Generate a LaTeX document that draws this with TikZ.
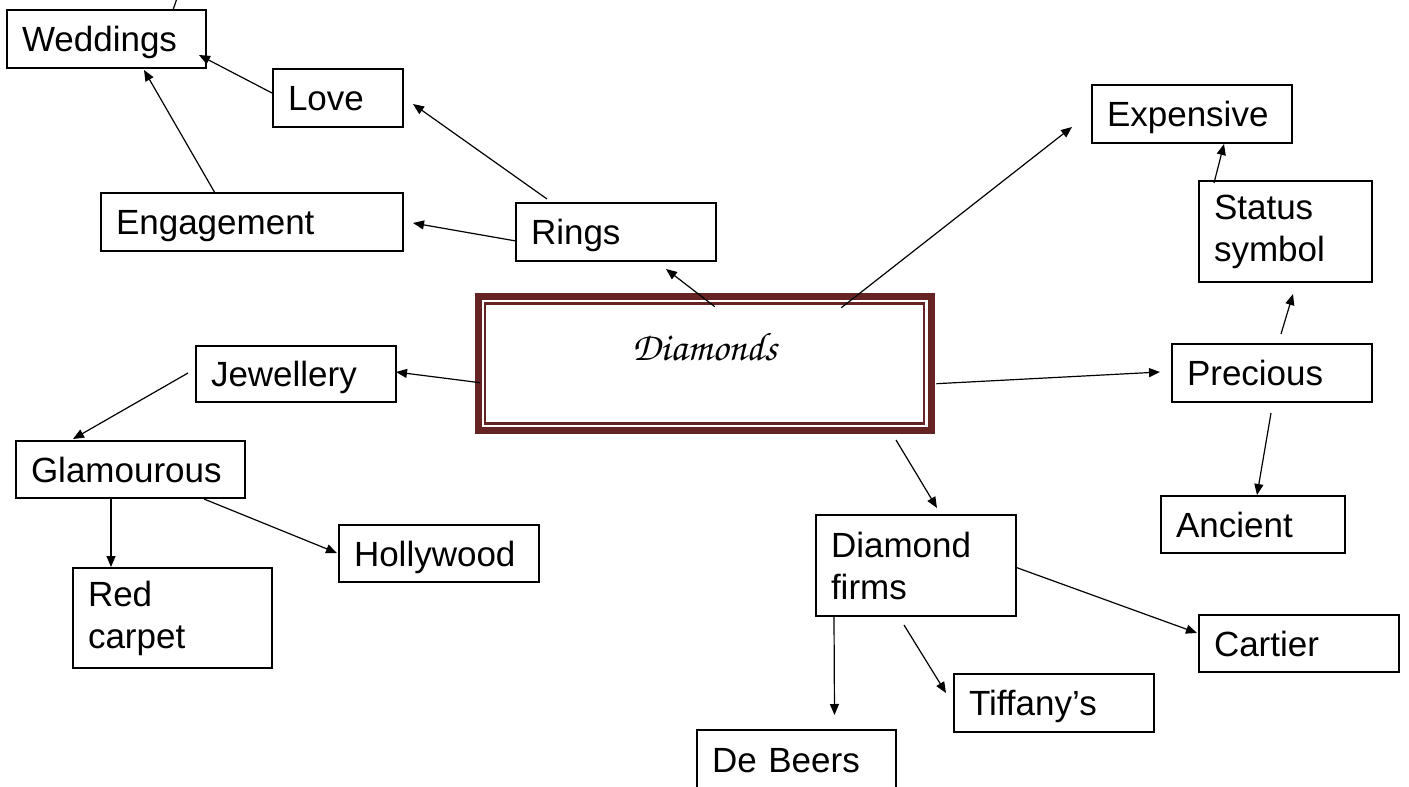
\documentclass[tikz,border=0pt]{standalone}
\usepackage{fontspec}
\setmainfont{Liberation Sans}
\newfontfamily\diafont{texgyrechorus-mediumitalic.otf}
\usetikzlibrary{arrows.meta}
\definecolor{diared}{RGB}{102,35,35}

\begin{document}
\begin{tikzpicture}[
  x=1pt, y=1pt,
  box/.style={draw, line width=1.3pt, anchor=north west, inner xsep=15pt, inner ysep=0pt, outer sep=0pt, align=left, text depth=0pt, font=\fontsize{35}{42}\selectfont},
  tallbox/.style={box, text depth=},
  arr/.style={-{Triangle[length=11pt,width=9pt]}, line width=1.2pt}
]
\useasboundingbox (0,0) rectangle (1409,-787);
\clip (0,0) rectangle (1409,-787);

% centre
\node[draw=diared, line width=6.7pt, anchor=north west, minimum width=453pt, minimum height=134pt, inner sep=0pt, outer sep=0pt, text height=25pt, text depth=32pt, font=\diafont\fontsize{40}{40}\selectfont] (dia) at (478.3,-296.7) {Diamonds};
\draw[diared, line width=2.6pt] ([shift={(6.5,-7)}]dia.north west) rectangle ([shift={(-7.5,7)}]dia.south east);

% left side
\node[box, text width=169pt, minimum height=58pt] (wed) at (7,-10) {Weddings};
\node[box, text width=100pt, minimum height=58pt] (love) at (273,-69) {Love};
\node[box, text width=272pt, minimum height=58pt] (eng) at (101,-193) {Engagement};
\node[box, text width=170pt, minimum height=58pt] (rings) at (516,-203) {Rings};
\node[box, text width=170pt, minimum height=56pt] (jew) at (196,-346) {Jewellery};
\node[box, text width=199pt, minimum height=57pt] (glam) at (16,-441) {Glamourous};
\node[box, text width=170pt, minimum height=57pt] (holly) at (339,-525) {Hollywood};
\node[tallbox, text width=169pt, minimum height=100pt] (red) at (73,-568) {Red\\carpet};

% right side
\node[box, text width=170pt, minimum height=58pt] (exp) at (1092,-85) {Expensive};
\node[tallbox, text width=143pt, minimum height=101pt] (stat) at (1199,-181) {Status\\symbol};
\node[box, text width=170pt, minimum height=58pt] (prec) at (1172,-344) {Precious};
\node[box, text width=154pt, minimum height=57pt] (anc) at (1161,-496) {Ancient};
\node[tallbox, text width=170pt, minimum height=101pt] (firms) at (816,-515) {Diamond\\firms};
\node[box, text width=170pt, minimum height=57pt] (cart) at (1199,-615) {Cartier};
\node[box, text width=170pt, minimum height=58pt] (tiff) at (954,-674) {Tiffany’s};
\node[box, text width=169pt, minimum height=60pt] (beers) at (697,-730) {De Beers};

\coordinate (wedup) at (178.5,6);
\draw[line width=1.2pt] ([shift={(166,0)}]wed.north west) -- (wedup);

\draw[arr] ([shift={(-1,-24)}]love.north west) -- ([shift={(-7,-45)}]wed.north east);
\draw[arr] ([shift={(114,0)}]eng.north west) -- ([shift={(137,-2)}]wed.south west);
\draw[arr] ([shift={(31,4)}]rings.north west) -- ([shift={(10,-35)}]love.north east);
\draw[arr] ([shift={(0,-38)}]rings.north west) -- ([shift={(10,-30)}]eng.north east);
\draw[arr] ([shift={(236.5,-10)}]dia.north west) -- ([shift={(150,-8)}]rings.south west);
\draw[arr] ([shift={(363,-11)}]dia.north west) -- ([shift={(-20,16)}]exp.south west);
\draw[arr] ([shift={(15,-2)}]stat.north west) -- ([shift={(132,-1)}]exp.south west);
\draw[arr] ([shift={(109,10)}]prec.north west) -- ([shift={(94,-12)}]stat.south west);
\draw[arr] ([shift={(1.7,-86)}]dia.north west) -- ([shift={(0,-26)}]jew.north east);
\draw[arr] ([shift={(5,-87)}]dia.north east) -- ([shift={(-12,-28)}]prec.north west);
\draw[arr] ([shift={(99,-11)}]prec.south west) -- ([shift={(96,1)}]anc.north west);
\draw[arr] ([shift={(-8,-27)}]jew.north west) -- ([shift={(57,2)}]glam.north west);
\draw[arr] ([shift={(95,-1)}]glam.south west) -- ([shift={(38,1)}]red.north west);
\draw[arr] ([shift={(188,-1)}]glam.south west) -- ([shift={(-2,-28)}]holly.north west);
\draw[arr] ([shift={(417.7,-9.3)}]dia.south west) -- ([shift={(121,7)}]firms.north west);
\draw[arr] ([shift={(-1,-52)}]firms.north east) -- ([shift={(-2,-18)}]cart.north west);
\draw[arr] ([shift={(88,-9)}]firms.south west) -- ([shift={(-8,-19)}]tiff.north west);
\draw[arr] ([shift={(18,-1)}]firms.south west) -- ([shift={(137.5,15)}]beers.north west);
\end{tikzpicture}
\end{document}
